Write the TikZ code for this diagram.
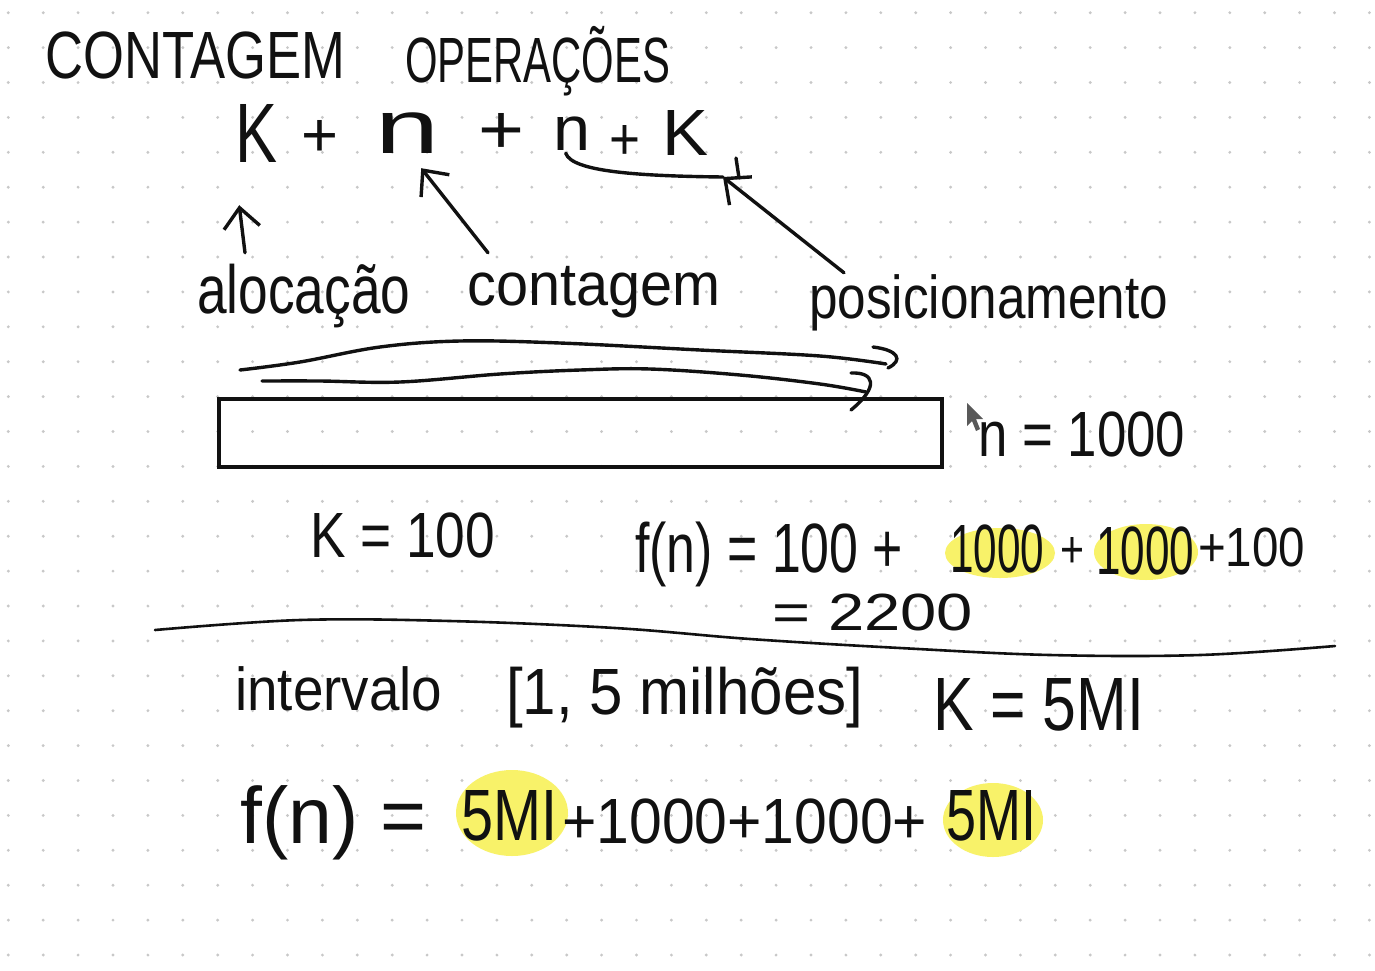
\documentclass[tikz,border=0pt]{standalone}
\usepackage{fontspec}
\setmainfont{Liberation Sans}
\usetikzlibrary{arrows.meta,calc}
\newlength\hwh
\newcommand\capbox[1]{\settoheight{\hwh}{H}\raisebox{0pt}[\hwh][0pt]{#1}}
\newcommand\xbox[1]{\settoheight{\hwh}{x}\raisebox{0pt}[\hwh][0pt]{#1}}
\newcommand\hwC[3]{\resizebox{#1pt}{#2pt}{\capbox{#3}}}
\newcommand\hwX[3]{\resizebox{#1pt}{#2pt}{\xbox{#3}}}
\definecolor{ink}{RGB}{17,17,17}
\definecolor{hilite}{RGB}{248,242,105}
\definecolor{griddot}{RGB}{200,200,200}
\tikzset{
  hw/.style={inner sep=0pt, anchor=base west, text=ink},
  plus/.style={inner sep=0pt, text=ink},
  stroke/.style={draw=ink, line width=3.4pt, line cap=round, line join=round},
  arr/.style={stroke, -{Straight Barb[length=20pt,width=36pt]}},
  hl/.style={fill=hilite, draw=none}
}
\begin{document}
\begin{tikzpicture}[x=1pt,y=-1pt]
\fill[white] (0,0) rectangle (1375,970);
\useasboundingbox (0,0) rectangle (1375,970);
% dot grid
\foreach \i in {0,...,39}{
  \foreach \j in {0,...,27}{
    \fill[griddot] ({8.3+34.9*\i},{12.7+34.9*\j}) circle (1.6pt);
  }
}
% highlights
\fill[hl] (1000,553) ellipse [x radius=55, y radius=25];
\fill[hl] (1146,552) ellipse [x radius=52, y radius=28];
\fill[hl] (512,813) ellipse [x radius=56, y radius=43];
\fill[hl] (993,820) ellipse [x radius=50, y radius=37];

% title
\node[hw] (t1) at (45,78) {\hwC{300}{46}{CONTAGEM}};
\node[hw] (t2) at (405,82) {\hwC{265}{44}{OPERAÇÕES}};

% formula K + n + n + K
\node[hw] (K1) at (235,162) {\hwC{42}{58}{K}};
\node[plus] (p1) at (320,138) {\resizebox{37pt}{36pt}{+}};
\node[hw] (n1) at (375,153) {\hwX{64}{40}{n}};
\node[plus] (p2) at (501,133) {\resizebox{46pt}{40pt}{+}};
\node[hw] (n2) at (553,150) {\hwX{37}{33}{n}};
\node[plus] (p3) at (625,142) {\resizebox{31pt}{34pt}{+}};
\node[hw] (K2) at (662,155) {\hwC{46}{45}{K}};

% labels
\node[hw] (aloc) at (197,313) {\hwX{213}{36}{alocação}};
\node[hw] (cont) at (467,305) {\hwX{253}{32}{contagem}};
\node[hw] (posi) at (809,318) {\hwX{359}{32}{posicionamento}};

% arrows to formula
\draw[arr] ($(aloc.north west)+(48,-24)$) -- ($(K1.south)+(-17,43)$);
\draw[arr] ($(cont.north west)+(21,-20)$) -- ($(n1.south)+(14,15)$);
\coordinate (join) at (723,177);
\draw[stroke] ($(n2.south)+(-6,3)$) .. controls (572,172) and (640,176) .. (join);
\draw[arr] ($(posi.north west)+(35,-13)$) -- (join);
\draw[stroke] (736,158) -- (739,178);

% array rectangle
\node[draw=ink, line width=4pt, minimum width=723pt, minimum height=68pt, inner sep=0pt, anchor=north west] (arr) at (217,397) {};

% wavy arrows above the array
\draw[stroke] plot[smooth, tension=0.6] coordinates {(240,370) (300,362) (380,347) (460,341) (560,343) (700,350) (820,356) (886,364)};
\draw[stroke] (873,347) .. controls (898,350) and (904,360) .. (888,368);
\draw[stroke] plot[smooth, tension=0.6] coordinates {(262,381) (320,381) (400,382) (500,374) (580,370) (650,369) (740,375) (820,384) (866,392)};
\draw[stroke] (851,373) .. controls (874,372) and (880,386) .. (851,410);

% cursor
\fill[gray!70!black] (967,403) -- (967,426) -- (972,421) -- (976,431) -- (980,429) -- (976,419) -- (983,419) -- cycle;

% n = 1000
\node[hw] (nval) at (978,456) {\hwC{207}{44}{n = 1000}};

% K = 100
\node[hw] (kval) at (310,557) {\hwC{185}{44}{K = 100}};

% f(n) = 100 + 1000 + 1000 + 100
\node[hw] (fa) at (635,572) {\hwC{268}{48}{f(n) = 100 +}};
\node[hw] (fb) at (950,572) {\hwC{94}{47}{1000}};
\node[plus] (fc) at (1072,552) {\resizebox{24pt}{30pt}{+}};
\node[hw] (fd) at (1096,574) {\hwC{98}{47}{1000}};
\node[hw] (fe) at (1198,566) {\hwC{107}{38}{+100}};
\node[hw] (sum) at (772,630) {\hwC{201}{36}{= 2200}};

% divider
\draw[stroke, line width=2.6pt] plot[smooth, tension=0.6] coordinates {(155,630) (300,620) (450,621) (615,628) (750,639) (900,648) (1050,655) (1200,655) (1335,646)};

% interval line
\node[hw] (intv) at (235,710) {\hwX{207}{32}{intervalo}};
\node[hw] (range) at (506,714) {\hwC{357}{45}{[1, 5 milhões]}};
\node[hw] (kmi) at (933,730) {\hwC{211}{52}{K = 5MI}};

% f(n) = 5MI + 1000 + 1000 + 5MI
\node[hw] (ga) at (240,843) {\hwC{186}{55}{f(n) =}};
\node[hw] (gb) at (461,840) {\hwC{96}{50}{5MI}};
\node[hw] (gc) at (562,843) {\hwC{365}{44}{+1000+1000+}};
\node[hw] (gd) at (946,840) {\hwC{90}{50}{5MI}};
\end{tikzpicture}
\end{document}
